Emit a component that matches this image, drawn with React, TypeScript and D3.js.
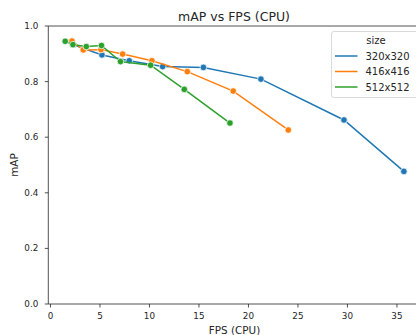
import * as d3 from "d3";

// mAP vs FPS on CPU, one series per input size
const sizes = ["320x320", "416x416", "512x512"];
const colors = ["#1f77b4", "#ff7f0e", "#2ca02c"];

const fps320 = [2.27, 5.2, 7.96, 11.33, 15.45, 21.26, 29.65, 35.7];
const map320 = [0.933, 0.896, 0.875, 0.854, 0.851, 0.809, 0.662, 0.477];

const fps416 = [2.17, 3.31, 5.1, 7.29, 10.25, 13.82, 18.46, 24.02];
const map416 = [0.946, 0.914, 0.915, 0.899, 0.875, 0.836, 0.766, 0.626];

const fps512 = [1.49, 2.27, 3.62, 5.15, 7.07, 10.12, 13.52, 18.13];
const map512 = [0.945, 0.933, 0.926, 0.93, 0.872, 0.859, 0.772, 0.651];

const xTicks = [0, 5, 10, 15, 20, 25, 30, 35];
const yTicks = [0, 0.2, 0.4, 0.6, 0.8, 1.0];

const W = 416;
const H = 335;
const FONT = "'DejaVu Sans', sans-serif";
const INK = "#262626";

export default function App() {
  const x = d3.scaleLinear().domain([-0.22, 37.41]).range([48.3, 420.8]);
  const y = d3.scaleLinear().domain([0, 1]).range([304, 26]);

  const series = [
    { name: sizes[0], color: colors[0], xs: fps320, ys: map320 },
    { name: sizes[1], color: colors[1], xs: fps416, ys: map416 },
    { name: sizes[2], color: colors[2], xs: fps512, ys: map512 },
  ];

  const line = d3
    .line<[number, number]>()
    .x((d) => x(d[0]))
    .y((d) => y(d[1]));

  const [x0, x1] = x.range();
  const [yb, yt] = y.range();

  return (
    <svg
      width={W}
      height={H}
      style={{ position: "absolute", left: 0, top: 0, fontFamily: FONT }}
    >
      <rect width={W} height={H} fill="#fff" />

      {series.map((s) => {
        const pts = s.xs.map((v, i) => [v, s.ys[i]] as [number, number]);
        return (
          <g key={s.name}>
            <path d={line(pts) ?? ""} fill="none" stroke={s.color} strokeWidth={1.5} />
            {pts.map((p, i) => (
              <circle
                key={i}
                cx={x(p[0])}
                cy={y(p[1])}
                r={3.3}
                fill={s.color}
                stroke="#fff"
                strokeWidth={0.75}
              />
            ))}
          </g>
        );
      })}

      {/* spines */}
      <line x1={x0} x2={x0} y1={yb} y2={yt} stroke={INK} strokeWidth={0.8} />
      <line x1={x0} x2={x1} y1={yb} y2={yb} stroke={INK} strokeWidth={0.8} />
      <line x1={x0} x2={x1} y1={yt} y2={yt} stroke={INK} strokeWidth={0.8} />
      <line x1={x1} x2={x1} y1={yb} y2={yt} stroke={INK} strokeWidth={0.8} />

      {xTicks.map((t) => (
        <g key={t} transform={`translate(${x(t)},${yb})`}>
          <line y2={3.5} stroke={INK} strokeWidth={0.8} />
          <text y={15} textAnchor="middle" fontSize={8.8} fill={INK}>
            {t}
          </text>
        </g>
      ))}
      {yTicks.map((t) => (
        <g key={t} transform={`translate(${x0},${y(t)})`}>
          <line x2={-3.5} stroke={INK} strokeWidth={0.8} />
          <text x={-10} dy="0.35em" textAnchor="end" fontSize={8.8} fill={INK}>
            {t.toFixed(1)}
          </text>
        </g>
      ))}

      <text x={(x0 + x1) / 2} y={334} textAnchor="middle" fontSize={10.4} fill={INK}>
        FPS (CPU)
      </text>
      <text
        transform={`translate(18,${(yb + yt) / 2}) rotate(-90)`}
        textAnchor="middle"
        fontSize={10.4}
        fill={INK}
      >
        mAP
      </text>
      <text x={234} y={21} textAnchor="middle" fontSize={12.5} fill={INK}>
        mAP vs FPS (CPU)
      </text>

      {/* legend */}
      <g>
        <rect
          x={331.5}
          y={31.5}
          width={86}
          height={66}
          rx={2.5}
          fill="#fff"
          fillOpacity={0.8}
          stroke="#d0d0d0"
          strokeWidth={0.8}
        />
        <text x={376} y={44} textAnchor="middle" fontSize={10} fill={INK}>
          size
        </text>
        {series.map((s, i) => (
          <g key={s.name} transform={`translate(0,${56 + i * 15.5})`}>
            <line x1={335} x2={357.5} stroke={s.color} strokeWidth={1.5} />
            <text x={365.5} dy="0.35em" fontSize={10} fill={INK}>
              {s.name}
            </text>
          </g>
        ))}
      </g>
    </svg>
  );
}
